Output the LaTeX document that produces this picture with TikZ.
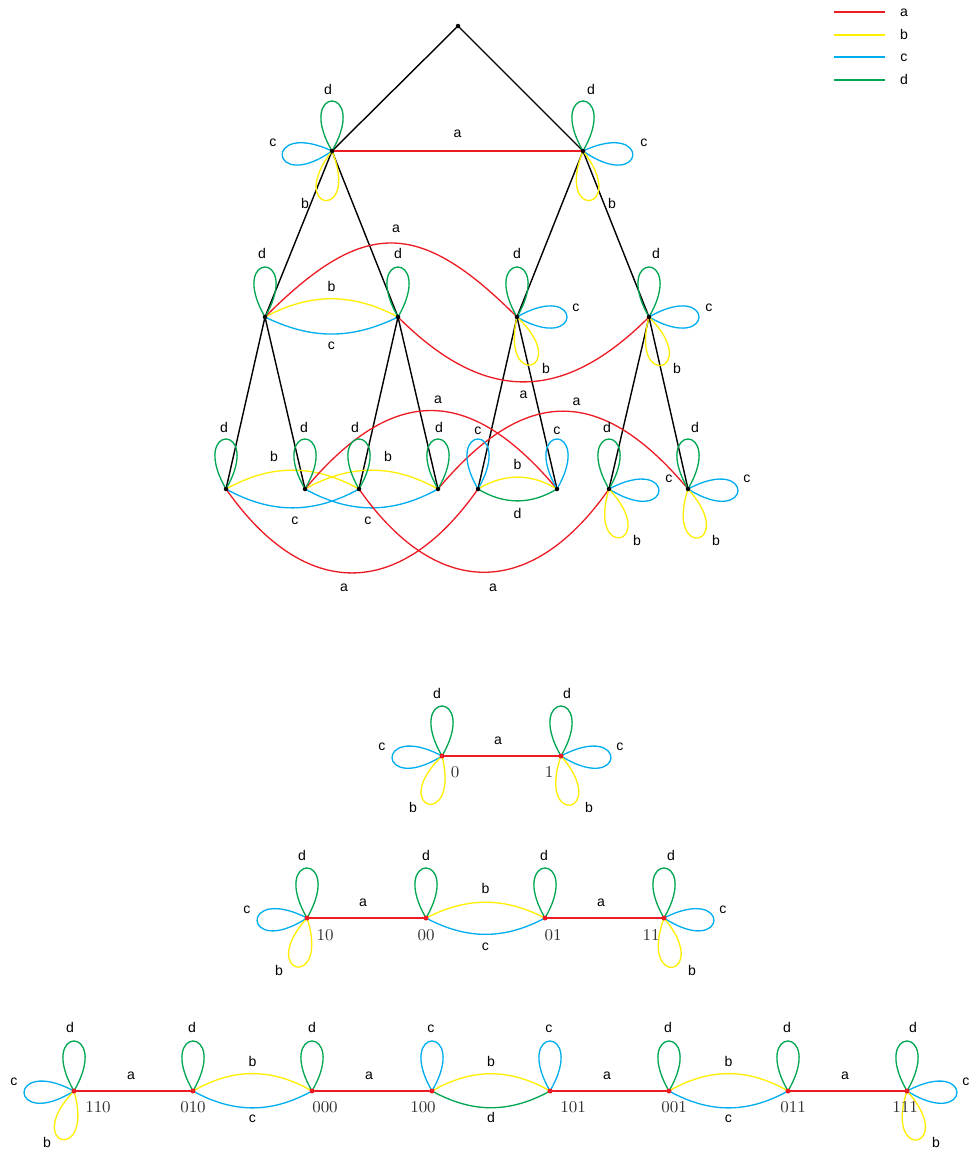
\documentclass[tikz,border=0pt]{standalone}
\usepackage{fontspec}
\setsansfont{Liberation Sans}
\usepackage{tikz}
\usetikzlibrary{calc}

\definecolor{eRed}{RGB}{237,28,36}
\definecolor{eYel}{RGB}{255,238,0}
\definecolor{eBlu}{RGB}{0,174,239}
\definecolor{eGrn}{RGB}{0,166,81}
\definecolor{numGray}{RGB}{50,50,50}

\begin{document}
\begin{tikzpicture}[x=0.2mm,y=-0.2mm,
  ea/.style={draw=eRed,line width=0.75pt},
  eb/.style={draw=eYel,line width=0.75pt},
  ec/.style={draw=eBlu,line width=0.75pt},
  ed/.style={draw=eGrn,line width=0.75pt},
  tr/.style={draw=black,line width=0.8pt},
  lp/.style={min distance=15.4mm},
  lbl/.style={font=\sffamily\fontsize{8}{9}\selectfont,inner sep=0pt,text height=5.5pt,text depth=0pt},
  num/.style={font=\fontsize{9.4}{11}\selectfont,text=numGray,inner sep=0pt}]
\useasboundingbox (0,0) rectangle (973,1163);
% tree
\coordinate (top) at (458,26);
\coordinate (u1) at (332,151);
\coordinate (u2) at (583,151);
\foreach \n/\x in {v1/265,v2/398,v3/517,v4/649} \coordinate (\n) at (\x,317);
\foreach \n/\x in {w1/226,w2/305,w3/359,w4/438,w5/478,w6/557,w7/609,w8/688} \coordinate (\n) at (\x,489);
% bottom graphs
\coordinate (g0) at (442,756);
\coordinate (g1) at (561,756);
\foreach \n/\x in {h10/307,h00/426,h01/545,h11/664} \coordinate (\n) at (\x,918);
\foreach \n/\x in {k110/74,k010/193,k000/312,k100/432,k101/550,k001/669,k011/788,k111/907} \coordinate (\n) at (\x,1091);

\foreach \p/\q in {top/u1,top/u2,u1/v1,u1/v2,u2/v3,u2/v4,v1/w1,v1/w2,v2/w3,v2/w4,v3/w5,v3/w6,v4/w7,v4/w8}
  \draw[tr] (\p) -- (\q);

\draw[ea] (u1) -- node[lbl,yshift=3.6mm]{a} (u2);
\draw[eb] (v1) to[bend left=28] node[lbl,yshift=2.4mm]{b} (v2);
\draw[ec] (v1) to[bend right=26] node[lbl,yshift=-2.2mm]{c} (v2);
\draw[ea] (v1) to[out=45,in=135,looseness=1.42] node[lbl,xshift=1mm,yshift=3mm]{a} (v3);
\draw[ea] (v2) to[out=-45,in=-135,looseness=1.25] node[lbl,yshift=-2.4mm]{a} (v4);
\draw[eb] (w1) to[bend left=29] node[lbl,xshift=-3.7mm,yshift=2.6mm]{b} (w3);
\draw[ec] (w1) to[bend right=29] node[lbl,xshift=0.5mm,yshift=-2.4mm]{c} (w3);
\draw[eb] (w2) to[bend left=29] node[lbl,xshift=3.3mm,yshift=2.6mm]{b} (w4);
\draw[ec] (w2) to[bend right=29] node[lbl,xshift=-0.7mm,yshift=-2.4mm]{c} (w4);
\draw[ea] (w2) to[out=50,in=130,looseness=1.39] node[lbl,xshift=1.4mm,yshift=2.4mm]{a} (w6);
\draw[ea] (w4) to[out=50,in=130,looseness=1.39] node[lbl,xshift=2.7mm,yshift=2mm]{a} (w8);
\draw[ea] (w1) to[out=-55,in=-125,looseness=1.39] node[lbl,xshift=-1.6mm,yshift=-2.8mm]{a} (w5);
\draw[ea] (w3) to[out=-55,in=-125,looseness=1.39] node[lbl,xshift=1.8mm,yshift=-2.8mm]{a} (w7);
\draw[eb] (w5) to[bend left=31] node[lbl,yshift=2.4mm]{b} (w6);
\draw[ed] (w5) to[bend right=31] node[lbl,yshift=-2.6mm]{d} (w6);

\draw[ea] (g0) -- node[lbl,xshift=-0.7mm,yshift=3.2mm]{a} (g1);
\draw[ea] (h10) -- node[lbl,xshift=-0.7mm,yshift=3.2mm]{a} (h00);
\draw[eb] (h00) to[bend left=27] node[lbl,yshift=2.8mm]{b} (h01);
\draw[ec] (h00) to[bend right=28] node[lbl,yshift=-2.2mm]{c} (h01);
\draw[ea] (h01) -- node[lbl,xshift=-0.7mm,yshift=3.2mm]{a} (h11);
\draw[ea] (k110) -- node[lbl,xshift=-0.5mm,yshift=3.2mm]{a} (k010);
\draw[eb] (k010) to[bend left=30] node[lbl,yshift=2.4mm]{b} (k000);
\draw[ec] (k010) to[bend right=29] node[lbl,yshift=-2mm]{c} (k000);
\draw[ea] (k000) -- node[lbl,xshift=-0.6mm,yshift=3.2mm]{a} (k100);
\draw[eb] (k100) to[bend left=30] node[lbl,yshift=2.4mm]{b} (k101);
\draw[ed] (k100) to[bend right=29] node[lbl,yshift=-2mm]{d} (k101);
\draw[ea] (k101) -- node[lbl,xshift=-0.5mm,yshift=3.2mm]{a} (k001);
\draw[eb] (k001) to[bend left=30] node[lbl,yshift=2.4mm]{b} (k011);
\draw[ec] (k001) to[bend right=29] node[lbl,yshift=-2mm]{c} (k011);
\draw[ea] (k011) -- node[lbl,xshift=-0.5mm,yshift=3.2mm]{a} (k111);

% loops: vertex/direction/colour/label/label offset
\foreach \n/\an/\s/\l/\dx/\dy [evaluate=\an as \ao using \an+30, evaluate=\an as \ai using \an-30] in
  {u1/90/ed/d/-4/-61, u1/185/ec/c/-59/-9, u1/262/eb/b/-27/53,
   u2/90/ed/d/8/-61, u2/-5/ec/c/61/-9, u2/-82/eb/b/29/53,
   v1/90/ed/d/-3/-63, v2/90/ed/d/0/-63,
   v3/90/ed/d/0/-63, v3/0/ec/c/59/-10, v3/-73/eb/b/29/52,
   v4/90/ed/d/7/-63, v4/0/ec/c/60/-10, v4/-75/eb/b/28/52,
   w1/90/ed/d/-2/-61, w2/90/ed/d/-1/-61, w3/90/ed/d/-4/-61, w4/90/ed/d/1/-61,
   w5/90/ec/c/0/-59, w6/90/ec/c/0/-59,
   w7/90/ed/d/-2/-61, w7/-2/ec/c/60/-11, w7/-77/eb/b/28/52,
   w8/90/ed/d/7/-61, w8/-2/ec/c/59/-11, w8/-78/eb/b/28/52,
   g0/90/ed/d/-5/-62, g0/182/ec/c/-60/-10, g0/254/eb/b/-29/52,
   g1/90/ed/d/6/-62, g1/-2/ec/c/59/-10, g1/-79/eb/b/28/52,
   h10/90/ed/d/-5/-62, h10/183/ec/c/-60/-9, h10/258/eb/b/-28/53,
   h00/90/ed/d/0/-62, h01/90/ed/d/-1/-62,
   h11/90/ed/d/7/-62, h11/-3/ec/c/59/-9, h11/-80/eb/b/28/53,
   k110/90/ed/d/-4/-63, k110/182/ec/c/-60/-10, k110/256/eb/b/-27/52,
   k010/90/ed/d/-1/-63, k000/90/ed/d/0/-63, k100/90/ec/c/-1/-63, k101/90/ec/c/-1/-63,
   k001/90/ed/d/-1/-63, k011/90/ed/d/-1/-63,
   k111/90/ed/d/6/-63, k111/-2/ec/c/59/-10, k111/-78/eb/b/29/52}
  \draw[\s] (\n) to[out=\ao,in=\ai,lp] (\n) +(\dx,\dy) node[lbl]{\l};

\foreach \p in {top,u1,u2,v1,v2,v3,v4,w1,w2,w3,w4,w5,w6,w7,w8}
  \fill (\p) circle (0.45mm);
\foreach \p in {g0,g1,h10,h00,h01,h11,k110,k010,k000,k100,k101,k001,k011,k111}
  \fill[eRed] (\p) circle (0.5mm);
\foreach \p/\lb/\dx/\dy in {g0/0/13/16, g1/1/-12/16,
   h10/10/18/17, h00/00/0/17, h01/01/8/17, h11/11/-13/17,
   k110/110/24/16, k010/010/0/16, k000/000/13/16, k100/100/-9/16,
   k101/101/23/16, k001/001/5/16, k011/011/5/16, k111/111/-2/16}
  \node[num] (\p-n) at ($(\p)+(\dx,\dy)$) {\lb};

% legend
\foreach \y/\s/\l in {12/ea/a,35/eb/b,57/ec/c,80/ed/d}
  {\draw[\s] (834,\y) -- (885,\y); \node[lbl] (leg-\l) at (904,\y) {\l};}
\end{tikzpicture}
\end{document}
